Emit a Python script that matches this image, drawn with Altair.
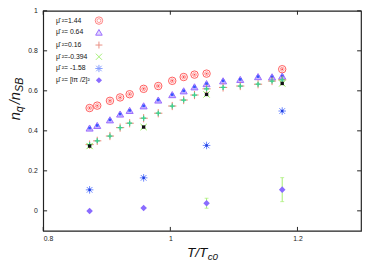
import altair as alt
import pandas as pd

# ---------------- data ----------------
T_all = [0.873, 0.885, 0.905, 0.921, 0.936, 0.958, 0.981, 1.003,
         1.021, 1.038, 1.057, 1.083, 1.110, 1.138, 1.160, 1.176]

circle_T = [0.873, 0.885, 0.905, 0.921, 0.936, 0.958, 0.981, 1.003,
            1.021, 1.038, 1.057, 1.176]
circle_v = [0.514, 0.526, 0.550, 0.567, 0.583, 0.610, 0.624, 0.650,
            0.669, 0.681, 0.686, 0.708]                      # mu^2 = 1.44

triangle_v = [0.414, 0.427, 0.455, 0.484, 0.502, 0.525, 0.554, 0.581,
              0.600, 0.620, 0.636, 0.650, 0.657, 0.671, 0.670, 0.674]   # 0.64

plus_v = [0.331, 0.350, 0.374, 0.416, 0.438, 0.463, 0.488, 0.524,
          0.554, 0.579, 0.610, 0.617, 0.624, 0.633, 0.649, 0.655]       # 0.16

T4 = [0.873, 0.958, 1.057, 1.176]
cross_v = [0.324, 0.419, 0.582, 0.637]       # -0.394
star_v = [0.105, 0.165, 0.327, 0.499]        # -1.58
diamond_v = [-0.001, 0.014, 0.038, 0.106]    # (i pi/2)^2
diamond_err = [0.0, 0.0, 0.025, 0.060]

x_ticks = [0.8, 1.0, 1.2]
y_ticks = [0.0, 0.2, 0.4, 0.6, 0.8, 1.0]

legend_labels = ["\u03bc\u0302 \u00b2=1.44", "\u03bc\u0302 \u00b2= 0.64", "\u03bc\u0302 \u00b2=0.16",
                 "\u03bc\u0302 \u00b2=-0.394", "\u03bc\u0302 \u00b2= -1.58", "\u03bc\u0302 \u00b2= [i\u03c0 /2]\u00b2"]

# ---------------- layout ----------------
W, H = 325, 225
FONT = "Liberation Sans"
xs = alt.Scale(domain=[0.8, 1.3], nice=False, zero=False)
ys = alt.Scale(domain=[-0.1, 1.0], nice=False, zero=False)
xaxis = alt.Axis(values=x_ticks, format="~g", ticks=False, domain=False, grid=False,
                 labelFontSize=7, labelPadding=4, labelFont=FONT, labelColor="#222", title=None)
yaxis = alt.Axis(values=y_ticks, format="~g", ticks=False, domain=False, grid=False,
                 labelFontSize=7, labelPadding=6, labelFont=FONT, labelColor="#222", title=None)

PLUS = "M-1,0L1,0M0,-1L0,1"
XSH = "M-1,-1L1,1M-1,1L1,-1"
STAR = "M-1,0L1,0M0,-1L0,1M-0.75,-0.75L0.75,0.75M-0.75,0.75L0.75,-0.75"


def X(f):
    return alt.X(f, type="quantitative", scale=xs, axis=xaxis)


def Y(f):
    return alt.Y(f, type="quantitative", scale=ys, axis=yaxis)


def df(t, v):
    return pd.DataFrame({"T": t, "v": v})


def pts(d, **mk):
    return alt.Chart(d).mark_point(**mk).encode(x=X("T"), y=Y("v"))


def leg(row_y, **mk):
    return alt.Chart(pd.DataFrame({"a": [0]})).mark_point(**mk).encode(
        x=alt.value(57), y=alt.value(row_y))


layers = []

# ticks (inward, mirrored)
xt = pd.DataFrame({"xt": x_ticks})
yt = pd.DataFrame({"yt": y_ticks})
layers.append(alt.Chart(xt).mark_rule(color="#222", strokeWidth=1).encode(
    x=X("xt"), y=alt.value(H), y2=alt.value(H - 4)))
layers.append(alt.Chart(xt).mark_rule(color="#222", strokeWidth=1).encode(
    x=X("xt"), y=alt.value(0), y2=alt.value(4)))
layers.append(alt.Chart(yt).mark_rule(color="#222", strokeWidth=1).encode(
    y=Y("yt"), x=alt.value(0), x2=alt.value(4)))
layers.append(alt.Chart(yt).mark_rule(color="#222", strokeWidth=1).encode(
    y=Y("yt"), x=alt.value(W - 4), x2=alt.value(W)))

# error bars for diamonds
ed = pd.DataFrame({"T": T4, "v": diamond_v, "e": diamond_err})
ed = ed[ed["e"] > 0].copy()
ed["lo"] = ed["v"] - ed["e"]
ed["hi"] = ed["v"] + ed["e"]
layers.append(alt.Chart(ed).mark_rule(color="#a4ee70", strokeWidth=1).encode(
    x=X("T"), y=Y("lo"), y2="hi"))
layers.append(alt.Chart(ed).mark_tick(color="#a4ee70", orient="horizontal", size=4, thickness=1).encode(
    x=X("T"), y=Y("lo")))
layers.append(alt.Chart(ed).mark_tick(color="#a4ee70", orient="horizontal", size=4, thickness=1).encode(
    x=X("T"), y=Y("hi")))

# series
RED = "#ff4a4a"
cd = df(circle_T, circle_v)
layers.append(pts(cd, shape="circle", size=58, filled=False, stroke=RED, strokeWidth=1, opacity=0.9))
layers.append(pts(cd, shape="circle", size=16, filled=False, stroke=RED, strokeWidth=0.8, opacity=0.7))
layers.append(pts(cd, shape="circle", size=4, filled=True, color=RED, opacity=1))

td = df(T_all, triangle_v)
layers.append(pts(td, shape="triangle-up", size=52, filled=True, fill="#c9b6ff", stroke="#9a6bff",
                  strokeWidth=1, opacity=1))
layers.append(pts(td, shape="square", size=7, filled=True, color="#3355ff", opacity=1))

pd_ = df(T_all, plus_v)
layers.append(pts(pd_, shape=PLUS, size=70, filled=False, stroke="#e98070", strokeWidth=1, opacity=1))
layers.append(pts(pd_, shape=PLUS, size=26, filled=False, stroke="#30d890", strokeWidth=1.3, opacity=1))

xd = df(T4, cross_v)
layers.append(pts(xd, shape=XSH, size=40, filled=False, stroke="#80ea40", strokeWidth=1, opacity=1))
layers.append(pts(xd, shape="square", size=12, filled=True, color="#111", opacity=1))

sd = df(T4, star_v)
layers.append(pts(sd, shape=STAR, size=60, filled=False, stroke="#6a86ff", strokeWidth=1, opacity=1))
layers.append(pts(sd, shape="square", size=6, filled=True, color="#2040e0", opacity=1))

dd = df(T4, diamond_v)
layers.append(pts(dd, shape="diamond", size=45, filled=True, color="#8a6cff", opacity=1))

# legend
rows = [10, 22, 35, 47, 59, 71]
lt = pd.DataFrame({"label": legend_labels, "ry": rows})
layers.append(alt.Chart(lt).mark_text(align="left", baseline="middle", fontSize=7, font=FONT,
                                      color="#111").encode(
    x=alt.value(13), y=alt.Y("ry:Q", scale=None), text="label:N"))
layers.append(leg(rows[0], shape="circle", size=58, filled=False, stroke=RED, strokeWidth=1))
layers.append(leg(rows[0], shape="circle", size=16, filled=False, stroke=RED, strokeWidth=0.8, opacity=0.7))
layers.append(leg(rows[1], shape="triangle-up", size=45, filled=True, fill="#e2d8ff", stroke="#9a6bff",
                  strokeWidth=1, opacity=1))
layers.append(leg(rows[2], shape=PLUS, size=50, filled=False, stroke="#e06050", strokeWidth=1))
layers.append(leg(rows[3], shape=XSH, size=40, filled=False, stroke="#80ea40", strokeWidth=1))
layers.append(leg(rows[4], shape=STAR, size=55, filled=False, stroke="#5577ff", strokeWidth=1))
layers.append(leg(rows[5], shape="diamond", size=40, filled=True, color="#8a6cff", opacity=1))

# axis titles (with subscripts)
ytitle = pd.DataFrame({"t": ["n", "q", "/n", "SB"], "dx": [0, 8.4, 16.5, 29.0],
                       "dy": [0, 3, 0, 3], "fs": [15, 11, 15, 11]})
for _, r in ytitle.iterrows():
    layers.append(alt.Chart(pd.DataFrame({"t": [r["t"]]})).mark_text(
        align="left", baseline="alphabetic", angle=270, font=FONT, fontStyle="italic",
        fontSize=float(r["fs"]), dx=float(r["dx"]), dy=float(r["dy"]), color="#111").encode(
        x=alt.value(-24), y=alt.value(112), text="t:N"))

xtitle = pd.DataFrame({"t": ["T/T", "c0"], "dx": [0, 21.2], "dy": [0, 3], "fs": [14, 10]})
for _, r in xtitle.iterrows():
    layers.append(alt.Chart(pd.DataFrame({"t": [r["t"]]})).mark_text(
        align="left", baseline="alphabetic", font=FONT, fontStyle="italic",
        fontSize=float(r["fs"]), dx=float(r["dx"]), dy=float(r["dy"]), color="#111").encode(
        x=alt.value(147), y=alt.value(252), text="t:N"))

chart = alt.layer(*layers).properties(
    width=W, height=H,
    autosize=alt.AutoSizeParams(type="none"),
    padding={"left": 36, "top": 0, "right": 1, "bottom": 30},
    background="white",
).configure_view(stroke="#222", strokeWidth=1.2)

chart.save("out.html", embed_options={"renderer": "svg", "actions": False})
